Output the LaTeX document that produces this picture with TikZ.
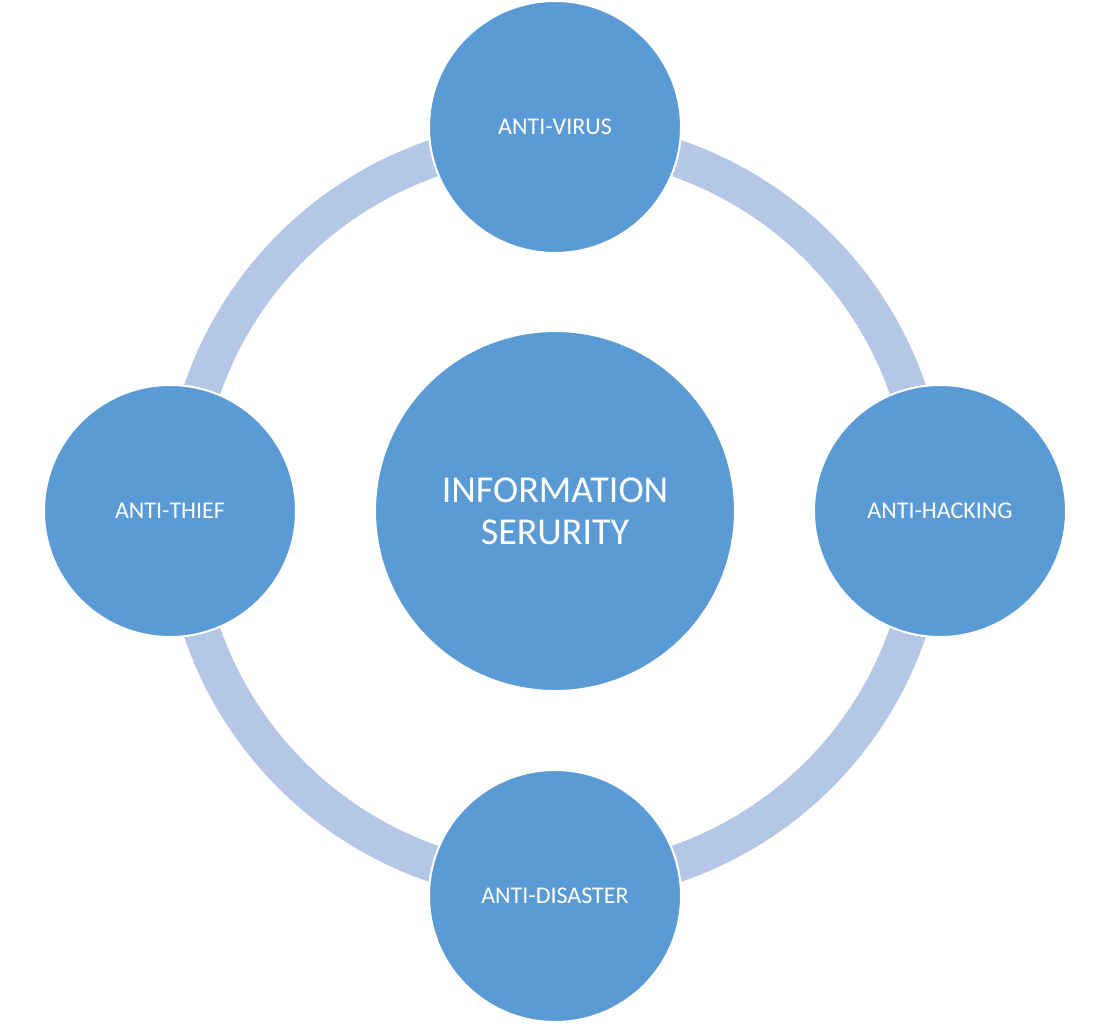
\documentclass[tikz,border=0pt]{standalone}
\usepackage{fontspec}
\setmainfont{Carlito}
\definecolor{nodeblue}{HTML}{5B9BD5}
\definecolor{ringblue}{HTML}{B4C7E7}
\tikzset{
  outer/.style={circle, fill=nodeblue, draw=white, line width=2pt, minimum size=252pt, inner sep=0pt, text=white, font=\fontsize{24}{29}\selectfont},
  core/.style={circle, fill=nodeblue, draw=white, line width=2pt, minimum size=360pt, inner sep=0pt, text=white, align=center, font=\fontsize{38}{42}\selectfont},
  ring/.style={draw=ringblue, line width=37pt}
}
\begin{document}
\begin{tikzpicture}[x=1pt,y=-1pt]
\useasboundingbox (0,0) rectangle (1110,1024);
\coordinate (c) at (555,511);
\draw[ring] (c) circle[radius=373pt];
\node[core] (info) at (c) {INFORMATION\\SERURITY};
\node[outer] (virus) at (555,127) {ANTI-VIRUS};
\node[outer] (hack) at (940,511) {ANTI-HACKING};
\node[outer] (disaster) at (555,896) {ANTI-DISASTER};
\node[outer] (thief) at (170,511) {ANTI-THIEF};
\end{tikzpicture}
\end{document}
